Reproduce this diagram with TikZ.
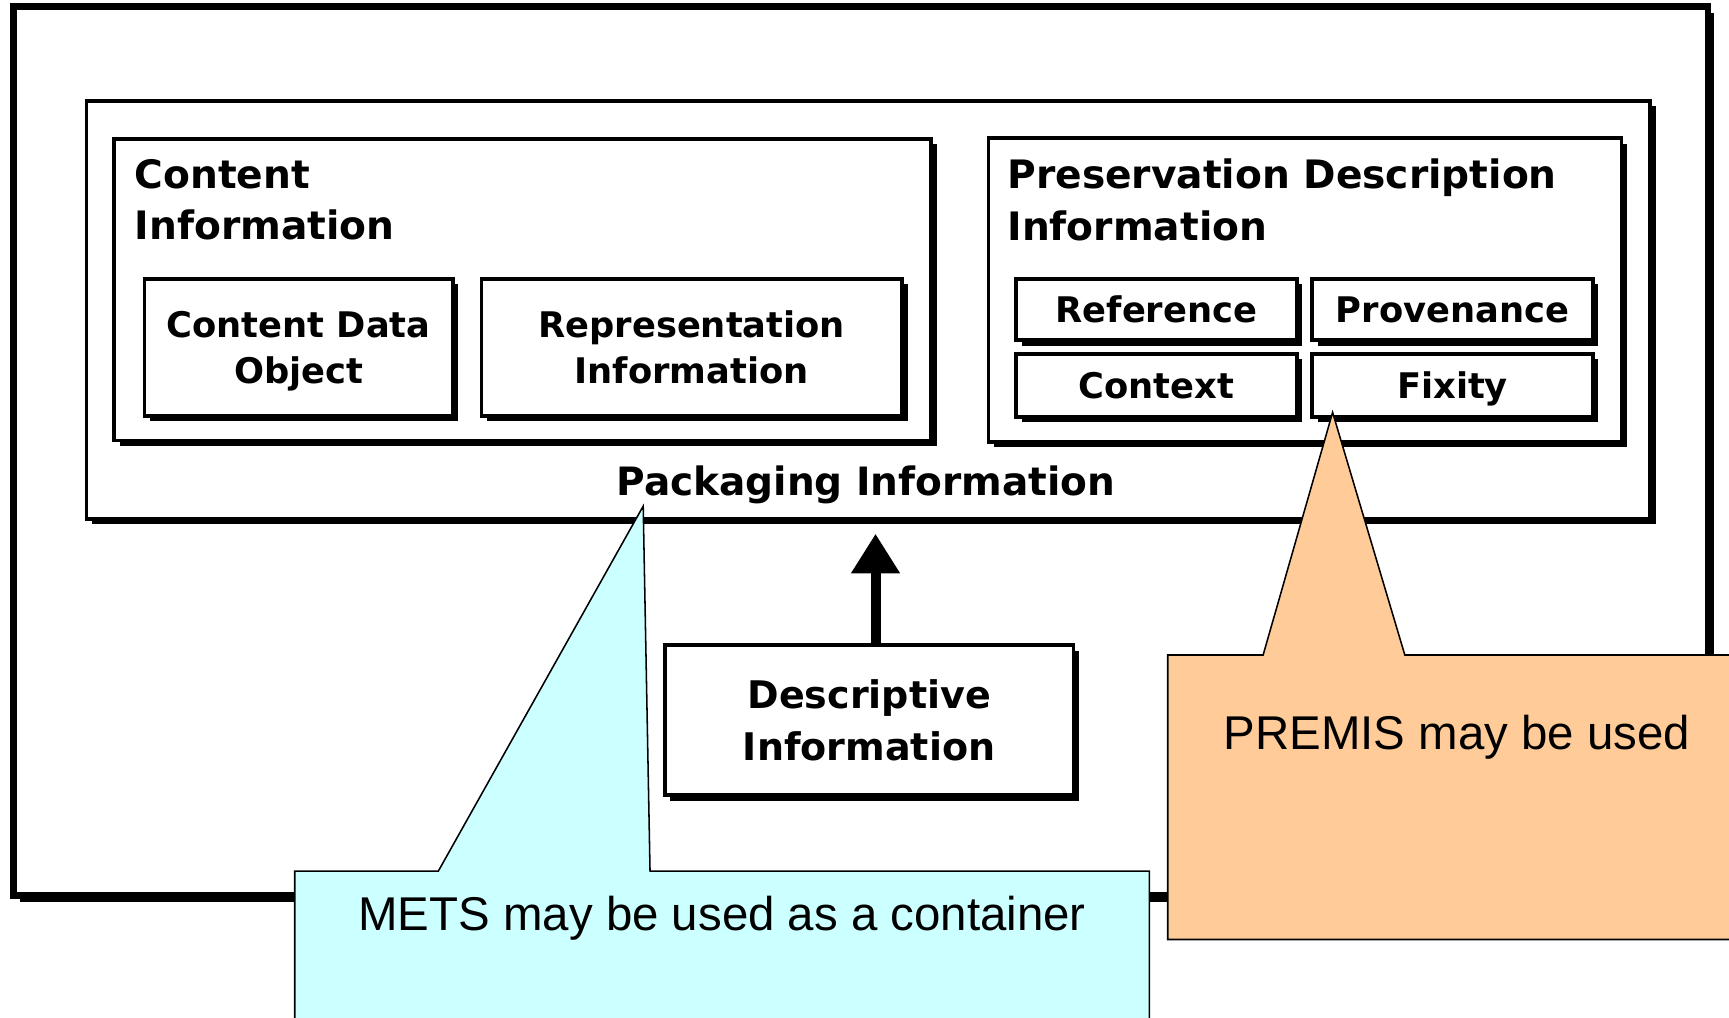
\documentclass[tikz,border=0pt]{standalone}
\usepackage{fontspec}
\setmainfont{DejaVu Sans}
\newfontfamily\calloutfont{Liberation Sans}
\usetikzlibrary{shadows,arrows.meta}
\definecolor{metscyan}{HTML}{CCFFFF}
\definecolor{premisorange}{HTML}{FFCC99}
\begin{document}
\begin{tikzpicture}[x=1pt,y=-1pt,
  frame/.style={draw, line width=3.5pt, fill=white, inner sep=0pt,
    drop shadow={shadow xshift=5pt, shadow yshift=-5pt, fill=black, opacity=1}},
  bigframe/.style={draw, line width=6pt, fill=white, inner sep=0pt,
    drop shadow={shadow xshift=6pt, shadow yshift=-6pt, fill=black, opacity=1}},
  inner/.style={frame, align=center, text depth=0pt, font=\bfseries\fontsize{32}{41.5}\selectfont},
  title/.style={anchor=north west, inner sep=0pt, align=left, font=\bfseries\fontsize{35.5}{46.5}\selectfont},
  callout/.style={draw=black, line width=1.4pt, line join=miter},
  callouttext/.style={inner sep=0pt, font=\calloutfont\fontsize{43}{50}\selectfont},
  arr/.style={line width=9pt, -{Triangle[width=42pt,length=36pt]}}
]
\useasboundingbox (0,0) rectangle (1568,923);

% outer frame
\node[bigframe, minimum width=1536.7pt, minimum height=806pt] (outer) at (780.45,409.1) {};
% packaging information
\node[frame, minimum width=1418pt, minimum height=379pt] (pack) at (787.5,281) {};
\node[anchor=base, inner sep=0pt, font=\bfseries\fontsize{35.4}{46}\selectfont] (packlabel) at (785.3,449) {Packaging Information};

% content information
\node[frame, minimum width=741pt, minimum height=273.5pt] (cinfo) at (474,262.75) {};
\node[title] (cinfolabel) at (122,144) {Content\\Information};
\node[inner, minimum width=279.5pt, minimum height=124.3pt] (cdo) at (270.75,314.85) {Content Data\\Object};
\node[inner, minimum width=381.4pt, minimum height=124.3pt] (rep) at (627.3,314.85) {Representation\\Information};

% preservation description information
\node[frame, minimum width=574pt, minimum height=275pt] (pdi) at (1183.5,263) {};
\node[title] (pdilabel) at (913.5,144) {Preservation Description\\Information};
\node[inner, minimum width=254.5pt, minimum height=55.8pt] (ref) at (1048.75,280.6) {Reference};
\node[inner, minimum width=254.5pt, minimum height=55.8pt] (prov) at (1317.25,280.6) {Provenance};
\node[inner, minimum width=254.5pt, minimum height=57.2pt] (ctx) at (1048.75,349.4) {Context};
\node[inner, minimum width=254.5pt, minimum height=57.2pt] (fix) at (1317.25,349.4) {Fixity};

% descriptive information
\node[frame, align=center, text depth=0pt, font=\bfseries\fontsize{34.5}{46.5}\selectfont,
  minimum width=370.5pt, minimum height=136pt] (desc) at (788.25,653) {Descriptive\\Information};
\coordinate (tip) at (794,484);
\draw[arr] (tip |- desc.north) -- (tip);

% METS callout
\coordinate (metstip) at (583.3,459);
\draw[callout, fill=metscyan] (267.3,790) -- (397.5,790) -- (metstip) -- (589.5,790)
  -- (1042.3,790) -- (1042.3,940) -- (267.3,940) -- cycle;
\node[callouttext, anchor=base] (mets) at (654.9,843.4) {METS may be used as a container};

% PREMIS callout
\coordinate (premistip) at (1208.5,374);
\draw[callout, fill=premisorange] (1059,594) -- (1145.5,594) -- (premistip) -- (1274,594)
  -- (1590,594) -- (1590,852) -- (1059,852) -- cycle;
\node[callouttext, anchor=base] (premis) at (1321.2,679.3) {PREMIS may be used};
\end{tikzpicture}
\end{document}
